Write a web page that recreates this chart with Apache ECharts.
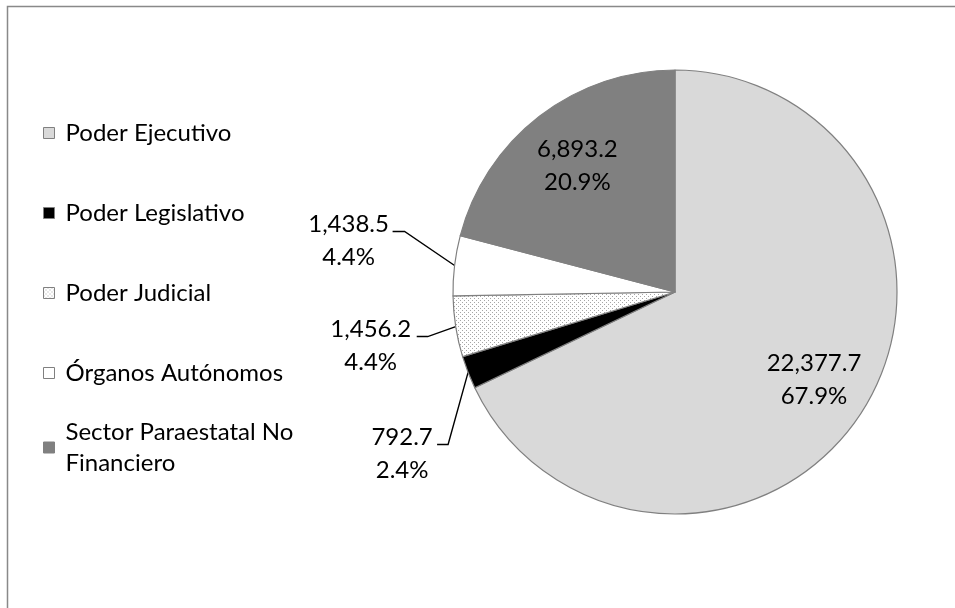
<!DOCTYPE html>
<html><head><meta charset="utf-8">
<script src="https://cdn.jsdelivr.net/npm/echarts@6/dist/echarts.min.js"></script>
<style>html,body{margin:0;padding:0;background:#fff}#c{width:955px;height:608px}</style>
</head><body><div id="c"></div>
<script>
// ---- data ----
const categories = ['Poder Ejecutivo', 'Poder Legislativo', 'Poder Judicial', 'Órganos Autónomos', 'Sector Paraestatal No Financiero'];
const values = [22377.7, 792.7, 1456.2, 1438.5, 6893.2];

// ---- styles / layout ----
const FONT = 'Lato';
const FS = 24;
const CX = 675, CY = 292, R = 222;

function dotPattern() {
  const c = document.createElement('canvas');
  c.width = 4; c.height = 4;
  const g = c.getContext('2d');
  g.fillStyle = '#ffffff'; g.fillRect(0, 0, 4, 4);
  g.fillStyle = '#a6a6a6';
  g.fillRect(0, 0, 1, 1); g.fillRect(2, 2, 1, 1);
  return c;
}
const sliceColors = ['#D9D9D9', '#000000', { image: dotPattern(), repeat: 'repeat' }, '#FFFFFF', '#808080'];
// label placement: inside labels at fraction f of radius; outside labels offsets from slice edge
const labelPlacement = [
  { inside: true, f: 0.74 },
  { inside: false, tx: -66, ty: 81, kx: -20, ky: 72, h: 11 },
  { inside: false, tx: -85, ty: 19, kx: -28, ky: 10, h: 11 },
  { inside: false, tx: -106, ty: -25, kx: -50, ky: -34, h: 12 },
  { inside: true, f: 0.72 }
];

const total = values.reduce((a, b) => a + b, 0);
const midAngles = [];
{
  let acc = 0;
  values.forEach(v => { midAngles.push((acc + v / 2) / total * 2 * Math.PI); acc += v; });
}

function fmt(v) {
  return v.toLocaleString('en-US', { minimumFractionDigits: 1, maximumFractionDigits: 1 });
}

const chart = echarts.init(document.getElementById('c'), null, { renderer: 'canvas' });
const textBase = { fontFamily: FONT, fontSize: FS, color: '#000' };

chart.setOption({
  backgroundColor: '#ffffff',
  animation: false,
  graphic: [{
    type: 'rect', silent: true,
    shape: { x: 7.5, y: 6.5, width: 1000, height: 1000 },
    style: { fill: 'none', stroke: '#898989', lineWidth: 1.5 }
  }],
  legend: [{
    orient: 'vertical', left: 43, top: 117.5, padding: 0, itemGap: 49,
    itemWidth: 11, itemHeight: 11, icon: 'rect', selectedMode: false,
    itemStyle: { borderColor: '#808080', borderWidth: 1 },
    textStyle: Object.assign({}, textBase, { lineHeight: 31, padding: [0, 0, 0, 6] }),
    data: categories.slice(0, 4)
  }, {
    orient: 'vertical', left: 43, top: 401, padding: 0,
    itemWidth: 11, itemHeight: 11, icon: 'rect', selectedMode: false,
    itemStyle: { borderColor: '#808080', borderWidth: 1 },
    textStyle: Object.assign({}, textBase, { lineHeight: 31, padding: [31, 0, 0, 6] }),
    formatter: n => n.replace(' No Financiero', ' No\nFinanciero'),
    data: categories.slice(4)
  }],
  series: [{
    type: 'pie',
    center: [CX, CY], radius: R,
    startAngle: 90, clockwise: true,
    percentPrecision: 1,
    avoidLabelOverlap: false,
    itemStyle: { borderColor: '#808080', borderWidth: 1.2 },
    label: Object.assign({}, textBase, {
      lineHeight: 33, align: 'center',
      formatter: p => fmt(p.value) + '\n' + p.percent.toFixed(1) + '%'
    }),
    labelLine: { lineStyle: { color: '#000', width: 1.4 } },
    emphasis: { disabled: true },
    labelLayout: function (p) {
      const i = p.dataIndex;
      const a = midAngles[i];
      const dx = Math.sin(a), dy = -Math.cos(a);
      const L = labelPlacement[i];
      if (L.inside) {
        return { x: CX + dx * R * L.f, y: CY + dy * R * L.f, align: 'center', verticalAlign: 'middle' };
      }
      const ex = CX + dx * R, ey = CY + dy * R;
      return {
        x: ex + L.tx, y: ey + L.ty, align: 'center', verticalAlign: 'middle',
        labelLinePoints: [[ex, ey], [ex + L.kx, ey + L.ky], [ex + L.kx - L.h, ey + L.ky]]
      };
    },
    data: categories.map((name, i) => {
      const L = labelPlacement[i];
      return {
        name, value: values[i],
        itemStyle: { color: sliceColors[i] },
        label: { position: L.inside ? 'inside' : 'outside' },
        labelLine: { show: !L.inside }
      };
    })
  }]
});
</script>
</body></html>
